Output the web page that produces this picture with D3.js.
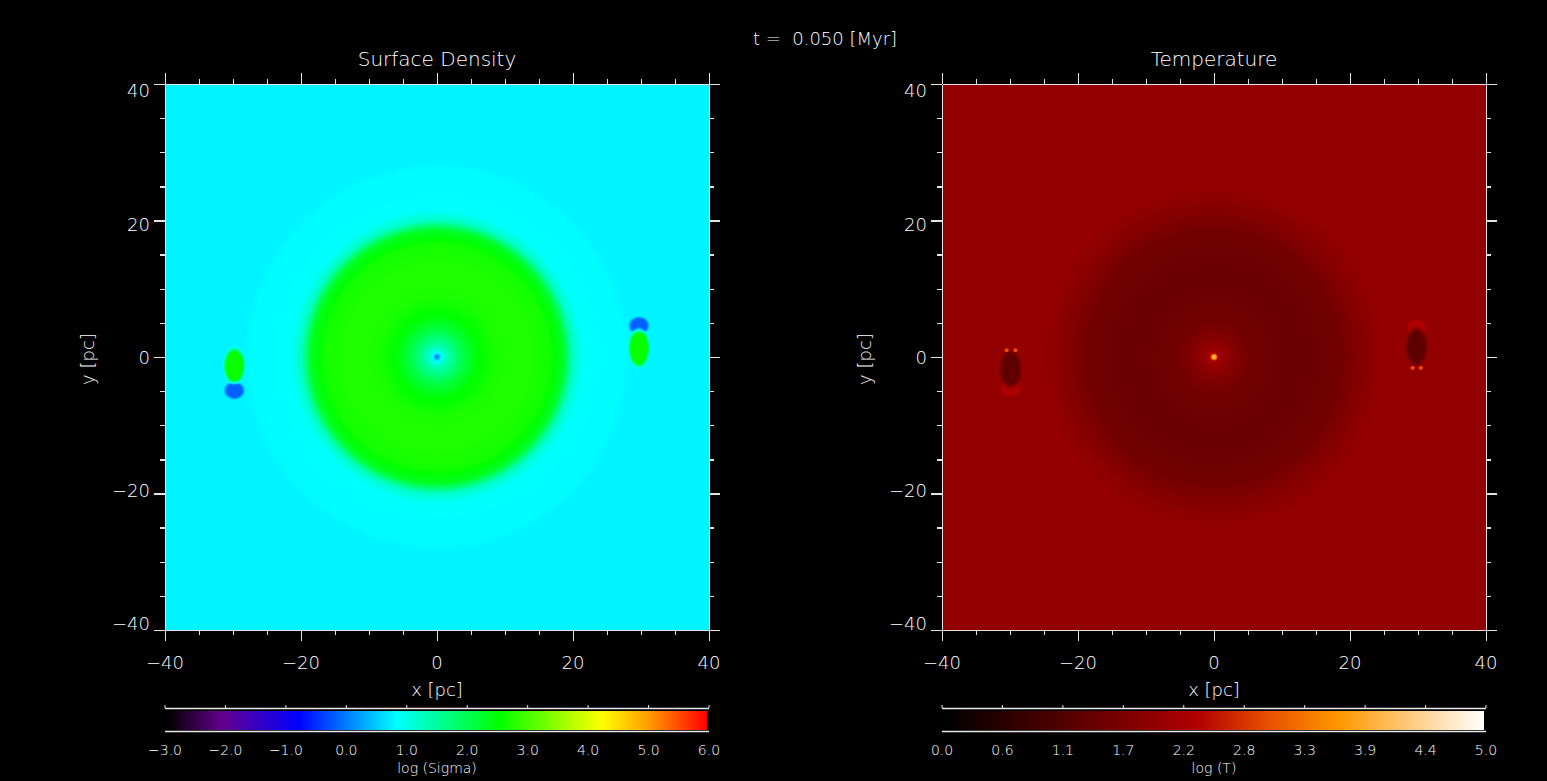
<!DOCTYPE html>
<html>
  <head>
    <style>
      body { margin: 0; background: #000; }
      text { fill: #ffffff; font-family: "DejaVu Sans", sans-serif; font-weight: 300; white-space: pre; }
      .axis path, .axis line { stroke: #e4e4e4; stroke-width: 1.3; fill: none; shape-rendering: crispEdges; }
    </style>
  </head>
  <body>
    <div id="chart"></div>
    <script src="https://d3js.org/d3.v7.min.js"></script>
    <script>
      // axis ticks (pc)
      const majorTicks = [-40, -20, 0, 20, 40];
      const minorTicks = [-35, -30, -25, -15, -10, -5, 5, 10, 15, 25, 30, 35];

      // radial profile of log Sigma (r in pc)
      const sigmaR = [0, 0.35, 0.8, 2, 4, 6, 9, 13, 16.5, 18.5, 20, 21.5, 24, 27.5, 28.5, 57];
      const sigmaV = [-0.3, 0.4, 1.0, 1.5, 2.1, 2.5, 2.72, 2.75, 2.65, 2.3, 1.2, 0.84, 0.8, 0.8, 0.75, 0.75];
      // blobs: [x, y, rx, ry, value]
      const sigmaBlobs = [
        [-29.8, -4.9, 1.5, 1.3, -0.2],
        [-29.8, -1.3, 1.55, 2.6, 2.6],
        [29.7, 4.6, 1.5, 1.3, -0.2],
        [29.7, 1.3, 1.55, 2.8, 2.6]
      ];

      // radial profile of log T
      const tempR = [0, 0.3, 0.6, 1.2, 3, 5, 8, 12, 16, 19, 22, 25, 57];
      const tempV = [4.5, 3.6, 2.2, 2.0, 1.75, 1.55, 1.45, 1.42, 1.45, 1.55, 1.8, 1.95, 1.95];
      const tempBlobs = [
        [-29.9, -4.6, 1.5, 1.3, 2.3],
        [-29.9, -1.8, 1.6, 2.8, 1.25],
        [-30.5, 1.0, 0.35, 0.3, 3.0],
        [-29.2, 1.0, 0.35, 0.3, 3.0],
        [29.8, 4.3, 1.5, 1.3, 2.3],
        [29.8, 1.5, 1.6, 2.8, 1.25],
        [29.2, -1.6, 0.35, 0.3, 3.0],
        [30.4, -1.6, 0.35, 0.3, 3.0]
      ];

      // colour tables
      const sigmaStops = [-3.0, -2.1, -0.82, 0.0, 0.82, 2.53, 4.24, 5.0, 6.0];
      const sigmaColors = ["#000000", "#64008c", "#0000ff", "#0080ff", "#00ffff", "#00ff00", "#ffff00", "#ffa000", "#ff0000"];
      const tempStops = [0.0, 2.34, 3.0, 3.66, 5.0];
      const tempColors = ["#000000", "#b00000", "#e85000", "#ff9800", "#ffffff"];

      const sigmaLabels = ["-3.0", "-2.0", "-1.0", "0.0", "1.0", "2.0", "3.0", "4.0", "5.0", "6.0"];
      const tempLabels = ["0.0", "0.6", "1.1", "1.7", "2.2", "2.8", "3.3", "3.9", "4.4", "5.0"];

      const W = 1547, H = 781;
      const panelW = 544, panelH = 546, panelTop = 84;

      const svg = d3.select("#chart").append("svg")
        .attr("width", W).attr("height", H)
        .style("background", "#000");

      svg.append("text")
        .attr("x", 825).attr("y", 39).attr("dy", "0.35em")
        .attr("text-anchor", "middle").style("font-size", "18px")
        .text("t =  0.050 [Myr]");

      function smooth(a, b, t) {
        const u = Math.max(0, Math.min(1, (t - a) / (b - a)));
        return u * u * (3 - 2 * u);
      }

      function fieldImage(x, y, profile, blobs, color) {
        const canvas = document.createElement("canvas");
        canvas.width = panelW; canvas.height = panelH;
        const ctx = canvas.getContext("2d");
        const img = ctx.createImageData(panelW, panelH);
        for (let j = 0; j < panelH; j++) {
          const py = y.invert(j + 0.5);
          for (let i = 0; i < panelW; i++) {
            const px = x.invert(i + 0.5);
            let v = profile(Math.hypot(px, py));
            blobs.forEach(b => {
              const d = Math.hypot((px - b[0]) / b[2], (py - b[1]) / b[3]);
              if (d < 1.2) {
                const w = 1 - smooth(0.7, 1.15, d);
                v = v + (b[4] - v) * w;
              }
            });
            const c = d3.rgb(color(v));
            const k = (j * panelW + i) * 4;
            img.data[k] = c.r; img.data[k + 1] = c.g; img.data[k + 2] = c.b; img.data[k + 3] = 255;
          }
        }
        ctx.putImageData(img, 0, 0);
        return canvas.toDataURL();
      }

      function drawPanel(opt) {
        const g = svg.append("g").attr("transform", "translate(" + opt.left + "," + panelTop + ")");
        const x = d3.scaleLinear().domain([-40, 40]).range([0, panelW]);
        const y = d3.scaleLinear().domain([-40, 40]).range([panelH, 0]);
        const yLab = d3.scaleLinear().domain([-40, 40]).range([panelH - 6, 7]);

        const profile = d3.scaleLinear().domain(opt.r).range(opt.v).clamp(true);
        const color = d3.scaleLinear().domain(opt.stops).range(opt.colors).clamp(true);

        g.append("image")
          .attr("x", 0).attr("y", 0)
          .attr("width", panelW).attr("height", panelH)
          .attr("preserveAspectRatio", "none")
          .attr("href", fieldImage(x, y, profile, opt.blobs, color));

        // axes: major + minor on all four sides, ticks outward
        const axes = [
          [d3.axisBottom, "translate(0," + panelH + ")", x],
          [d3.axisTop, null, x],
          [d3.axisLeft, null, y],
          [d3.axisRight, "translate(" + panelW + ",0)", y]
        ];
        axes.forEach(a => {
          const major = g.append("g").attr("class", "axis")
            .call(a[0](a[2]).tickValues(majorTicks).tickSize(11).tickSizeOuter(0).tickFormat(""));
          const minor = g.append("g").attr("class", "axis")
            .call(a[0](a[2]).tickValues(minorTicks).tickSize(5).tickSizeOuter(0).tickFormat(""));
          if (a[1]) { major.attr("transform", a[1]); minor.attr("transform", a[1]); }
        });

        // tick labels
        g.selectAll(".xl").data(majorTicks).enter().append("text")
          .attr("x", d => x(d)).attr("y", panelH + 33).attr("dy", "0.35em")
          .attr("text-anchor", "middle").style("font-size", "18px")
          .text(d => d < 0 ? "\u2212" + (-d) : d);
        g.selectAll(".yl").data(majorTicks).enter().append("text")
          .attr("x", -15).attr("y", d => yLab(d)).attr("dy", "0.35em")
          .attr("text-anchor", "end").style("font-size", "18px")
          .text(d => d < 0 ? "\u2212" + (-d) : d);

        g.append("text")
          .attr("x", panelW / 2).attr("y", -18)
          .attr("text-anchor", "middle").style("font-size", "20px")
          .text(opt.title);
        g.append("text")
          .attr("x", panelW / 2).attr("y", panelH + 60).attr("dy", "0.35em")
          .attr("text-anchor", "middle").style("font-size", "18px")
          .text("x [pc]");
        g.append("text")
          .attr("transform", "translate(-77," + (panelH / 2 + 2) + ") rotate(-90)")
          .attr("dy", "0.35em")
          .attr("text-anchor", "middle").style("font-size", "18px")
          .text("y [pc]");

        // colour bar
        const cb = g.append("g").attr("transform", "translate(0," + (panelH + 78) + ")");
        const cx = d3.scaleLinear().domain([opt.stops[0], opt.stops[opt.stops.length - 1]]).range([3, panelW - 2]);
        const gradId = "grad" + opt.id;
        const grad = svg.append("defs").append("linearGradient").attr("id", gradId);
        opt.stops.forEach((s, i) => {
          grad.append("stop")
            .attr("offset", (cx(s) - cx.range()[0]) / (cx.range()[1] - cx.range()[0]))
            .attr("stop-color", opt.colors[i]);
        });
        cb.append("rect")
          .attr("x", cx.range()[0]).attr("y", 3)
          .attr("width", cx.range()[1] - cx.range()[0]).attr("height", 19)
          .attr("fill", "url(#" + gradId + ")");
        const cbl = d3.scaleLinear().domain([0, opt.labels.length - 1]).range([0, panelW]);
        cb.append("line").attr("x1", 0).attr("x2", panelW).attr("y1", 0.5).attr("y2", 0.5)
          .attr("stroke", "#e8e8e8").attr("stroke-width", 1.3);
        cb.append("line").attr("x1", 0).attr("x2", panelW).attr("y1", 23.5).attr("y2", 23.5)
          .attr("stroke", "#e8e8e8").attr("stroke-width", 1.5);
        cb.selectAll(".ct").data(opt.labels).enter().append("line")
          .attr("x1", (d, i) => cbl(i)).attr("x2", (d, i) => cbl(i))
          .attr("y1", 0).attr("y2", -3)
          .attr("stroke", "#e8e8e8");
        cb.selectAll(".cl").data(opt.labels).enter().append("text")
          .attr("x", (d, i) => cbl(i)).attr("y", 42).attr("dy", "0.35em")
          .attr("text-anchor", "middle").style("font-size", "14px")
          .text(d => d.replace("-", "\u2212"));
        cb.append("text")
          .attr("x", panelW / 2).attr("y", 60).attr("dy", "0.35em")
          .attr("text-anchor", "middle").style("font-size", "14px")
          .text(opt.cbTitle);
      }

      drawPanel({
        id: 1, left: 165, title: "Surface Density", cbTitle: "log (Sigma)",
        r: sigmaR, v: sigmaV, blobs: sigmaBlobs,
        stops: sigmaStops, colors: sigmaColors, labels: sigmaLabels
      });
      drawPanel({
        id: 2, left: 942, title: "Temperature", cbTitle: "log (T)",
        r: tempR, v: tempV, blobs: tempBlobs,
        stops: tempStops, colors: tempColors, labels: tempLabels
      });
    </script>
  </body>
</html>
